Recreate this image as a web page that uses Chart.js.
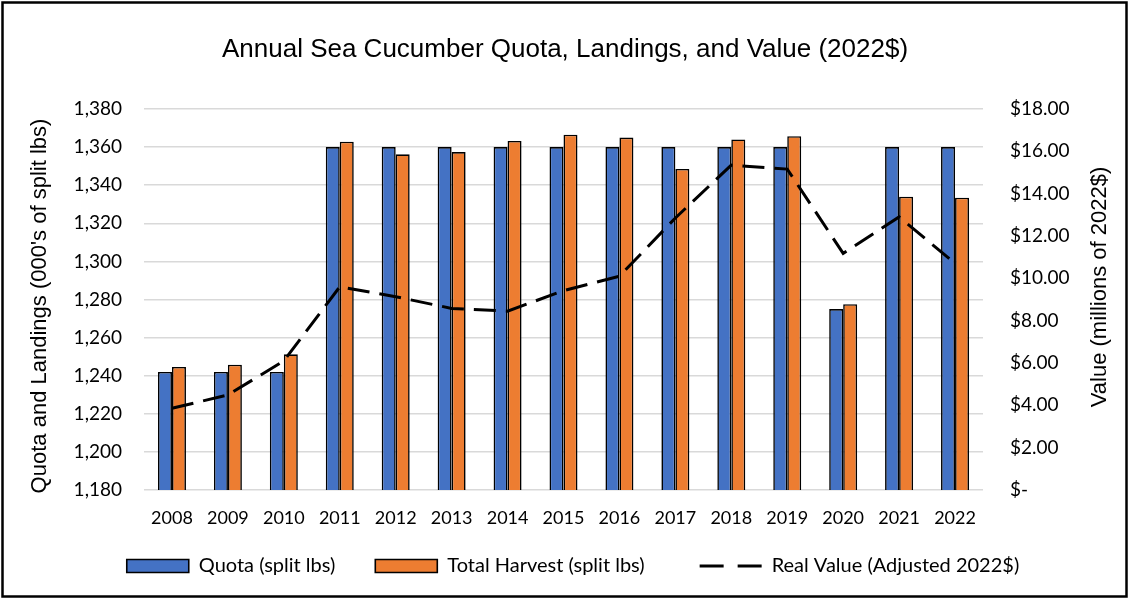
<!DOCTYPE html>
<html>
<head>
<meta charset="utf-8">
<script src="https://cdn.jsdelivr.net/npm/chart.js@4.4.1/dist/chart.umd.min.js"></script>
<style>
  html, body { margin: 0; padding: 0; background: #fff; }
  #wrap { position: relative; width: 1130px; height: 600px; }
</style>
</head>
<body>
<div id="wrap"><canvas id="c" width="1130" height="600"></canvas></div>
<script>
const years = ['2008','2009','2010','2011','2012','2013','2014','2015','2016','2017','2018','2019','2020','2021','2022'];
const quota = [1242,1242,1242,1360,1360,1360,1360,1360,1360,1360,1360,1360,1275,1360,1360];
const harvest = [1244.6,1245.8,1251.2,1362.8,1356.2,1357.4,1363.2,1366.5,1365,1348.5,1364,1365.7,1277.5,1334,1333.4];
const realValue = [3.86,4.49,6.1,9.6,9.13,8.58,8.45,9.42,10.1,12.85,15.35,15.16,11.18,12.9,10.71];
const seriesNames = ['Quota (split lbs)', 'Total Harvest (split lbs)', 'Real Value (Adjusted 2022$)'];
const chartTitle = 'Annual Sea Cucumber Quota, Landings, and Value (2022$)';
const leftTitle = "Quota and Landings (000's of split lbs)";
const rightTitle = 'Value (millions of 2022$)';

const calib = 'Lato, "Open Sans", sans-serif';
const arial = '"Liberation Sans", Arial, sans-serif';

function drawText(ctx, text, x, y, size, rot) {
  ctx.save();
  ctx.fillStyle = '#000';
  ctx.font = size + 'px ' + arial;
  ctx.textAlign = 'center';
  ctx.textBaseline = 'middle';
  ctx.translate(x, y);
  if (rot) ctx.rotate(rot);
  ctx.fillText(text, 0, 0);
  ctx.restore();
}

const decor = {
  id: 'decor',
  afterDraw(chart) {
    const ctx = chart.ctx;
    ctx.save();
    ctx.strokeStyle = '#000';
    ctx.lineWidth = 2.5;
    ctx.strokeRect(2.5, 2.5, 1124, 594);
    ctx.restore();
    drawText(ctx, chartTitle, 565, 50, 26, 0);
    drawText(ctx, leftTitle, 40, 306, 22, -Math.PI / 2);
    drawText(ctx, rightTitle, 1100, 287, 22, -Math.PI / 2);
  }
};

new Chart(document.getElementById('c'), {
  data: {
    labels: years,
    datasets: [
      { type: 'bar', label: seriesNames[0], data: quota, yAxisID: 'y',
        backgroundColor: '#4472C4', borderColor: '#000', borderWidth: 1.6,
        pointStyle: 'rect', order: 2 },
      { type: 'bar', label: seriesNames[1], data: harvest, yAxisID: 'y',
        backgroundColor: '#ED7D31', borderColor: '#000', borderWidth: 1.6,
        pointStyle: 'rect', order: 2 },
      { type: 'line', label: seriesNames[2], data: realValue, yAxisID: 'y2',
        borderColor: '#000', backgroundColor: '#000', borderWidth: 3,
        borderDash: [22, 10], pointRadius: 0, pointStyle: 'line', tension: 0,
        order: 1 }
    ]
  },
  options: {
    responsive: false,
    animation: false,
    devicePixelRatio: 1,
    datasets: { bar: { categoryPercentage: 0.5, barPercentage: 1.0 } },
    layout: { padding: { left: 26, right: 10, top: 109, bottom: 14 } },
    plugins: {
      title: { display: false },
      legend: {
        position: 'bottom',
        labels: {
          usePointStyle: true, pointStyleWidth: 62, boxHeight: 13,
          color: '#000', padding: 10,
          font: { family: calib, size: 20 },
          sort: (a, b) => a.datasetIndex - b.datasetIndex,
          generateLabels(chart) {
            const items = Chart.defaults.plugins.legend.labels.generateLabels(chart);
            items.forEach(it => {
              it.strokeStyle = '#000';
              if (it.datasetIndex === 0) {
                it.lineWidth = 1.6; it.lineDash = [];
                it.text = it.text + '\u2003\u2003';
              } else if (it.datasetIndex === 1) {
                it.lineWidth = 1.6; it.lineDash = [];
                it.text = it.text + '\u2003\u2003\u2003';
              } else { it.lineWidth = 3; it.lineDash = [24, 14]; }
            });
            return items;
          }
        }
      },
      tooltip: { enabled: false }
    },
    scales: {
      x: {
        grid: { display: false },
        border: { display: false },
        ticks: { color: '#000', font: { family: calib, size: 18 }, padding: 9, maxRotation: 0 },
        afterFit(s) { s.height = 56; }
      },
      y: {
        position: 'left', min: 1180, max: 1380,
        ticks: { stepSize: 20, color: '#000', font: { family: calib, size: 19 }, padding: 22,
          callback: v => v.toLocaleString('en-US') },
        grid: { color: '#d9d9d9', lineWidth: 1.5, drawTicks: false },
        border: { display: false },
        afterFit(s) { s.width = 118; }
      },
      y2: {
        position: 'right', min: 0, max: 18,
        ticks: { stepSize: 2, color: '#000', font: { family: calib, size: 19 }, padding: 27,
          callback: v => v === 0 ? '$-' : '$' + v.toFixed(2) },
        grid: { drawOnChartArea: false, drawTicks: false },
        border: { display: false },
        afterFit(s) { s.width = 137; }
      }
    }
  },
  plugins: [decor]
});
</script>
</body>
</html>
